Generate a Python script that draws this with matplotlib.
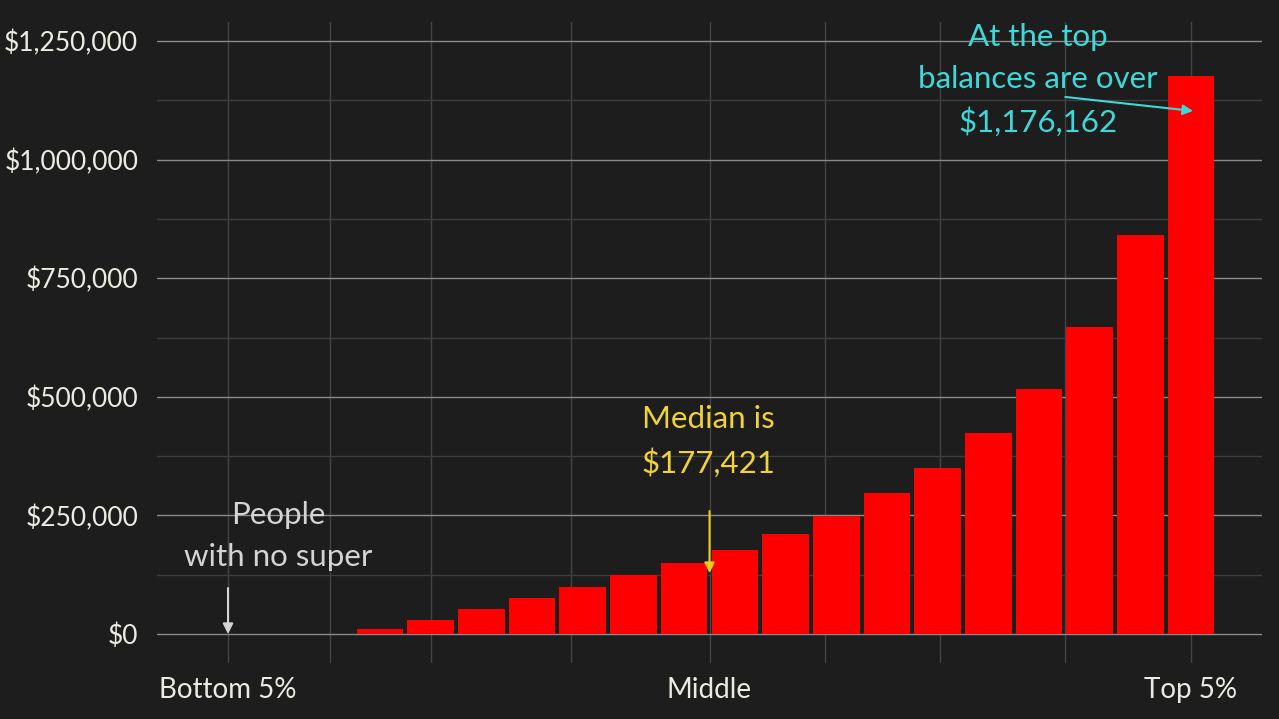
import matplotlib
matplotlib.use('Agg')
import matplotlib.pyplot as plt
from matplotlib.ticker import FuncFormatter, FixedLocator, MultipleLocator

# superannuation balance by 5% population band (bottom to top)
bands = ['0-5', '5-10', '10-15', '15-20', '20-25', '25-30', '30-35', '35-40',
         '40-45', '45-50', '50-55', '55-60', '60-65', '65-70', '70-75', '75-80',
         '80-85', '85-90', '90-95', '95-100']
balances = [0, 0, 0, 11000, 29500, 53000, 76000, 99700, 124000, 149700,
            177421, 210000, 249000, 296600, 350600, 423000, 517000, 646500,
            841000, 1176162]

x_tick_pos = [0, 9.5, 19]
x_tick_labels = ['Bottom 5%', 'Middle', 'Top 5%']
x_grid_pos = [2.01, 4.01, 6.77, 11.78, 14.05, 16.52]
y_ticks = [0, 250000, 500000, 750000, 1000000, 1250000]

median_value = 177421
top_value = 1176162

bg = '#1d1d1d'
text_col = '#ecebe3'
plt.rcParams['font.family'] = ['Lato', 'DejaVu Sans']

fig = plt.figure(figsize=(12.79, 7.19), dpi=100, facecolor=bg)
ax = fig.add_axes([0.1228, 0.0779, 0.8639, 0.8915], facecolor=bg)

x = list(range(len(bands)))
ax.bar(x, balances, width=0.92, color='#ff0000', zorder=2)

ax.set_xlim(-1.40, 20.40)
ax.set_ylim(-61000, 1290000)

ax.yaxis.set_major_locator(FixedLocator(y_ticks))
ax.yaxis.set_minor_locator(MultipleLocator(125000))
ax.yaxis.set_major_formatter(FuncFormatter(lambda v, p: f'${v:,.0f}'))
ax.set_xticks(x_tick_pos)
ax.set_xticklabels(x_tick_labels)
ax.set_xticks(x_grid_pos, minor=True)

ax.grid(axis='y', which='major', color='#8a8a8a', linewidth=1.0, zorder=0)
ax.grid(axis='y', which='minor', color='#3e3e3e', linewidth=1.0, zorder=0)
ax.grid(axis='x', which='both', color='#444444', linewidth=1.0, zorder=0)
ax.set_axisbelow(True)

ax.tick_params(axis='both', which='both', length=0, colors=text_col, labelsize=19)
ax.tick_params(axis='x', labelsize=20, pad=10)
ax.tick_params(axis='y', pad=13.5)
for s in ax.spines.values():
    s.set_visible(False)

arrow = dict(arrowstyle='-|>', lw=1.5, mutation_scale=15, shrinkA=0, shrinkB=0)

# people with no super
ax.annotate('', xy=(0, 0), xytext=(0, 97000), arrowprops=dict(arrow, color='#d4d4d4'))
ax.text(0.99, 206600, 'People\nwith no super', color='#d4d4d4', fontsize=22.5,
        ha='center', va='center', linespacing=1.6)

# median
ax.annotate('', xy=(9.5, 128600), xytext=(9.5, 259300), arrowprops=dict(arrow, color='#f2c81c'))
ax.text(9.47, 405800, f'Median is\n${median_value:,}', color='#f2d23a', fontsize=22.5,
        ha='center', va='center', linespacing=1.6)

# top 5%
ax.annotate('', xy=(19.04, 1102500), xytext=(16.52, 1132000), arrowprops=dict(arrow, color='#3fd8d8'))
ax.text(15.98, 1168000, f'At the top\nbalances are over\n${top_value:,}', color='#3fd8d8',
        fontsize=22.5, ha='center', va='center', linespacing=1.6)

fig.savefig('out.png', dpi=100, facecolor=bg)
